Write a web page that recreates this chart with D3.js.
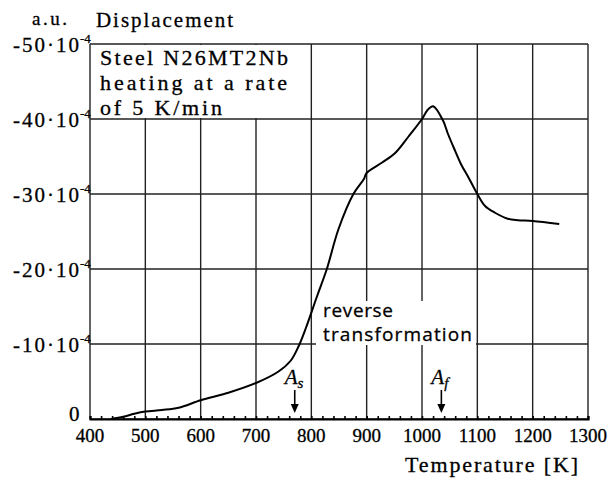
<!DOCTYPE html>
<html><head><meta charset="utf-8">
<script src="https://cdn.jsdelivr.net/npm/d3@7"></script>
<style>body{margin:0;background:#fff}svg{display:block}</style>
</head><body>
<svg id="c" width="612" height="480"></svg>
<script>
// Data (displacement in units of 1e-4, a.u.)
const temperature = [438,460,480,500,530,560,600,650,700,740,763,777,790,810,828,849,876,895,900,928,952,975,1000,1010,1020,1038,1047,1059,1071,1084,1100,1114,1132,1155,1173,1200,1248];
const displacement = [0,-0.3,-0.7,-1.0,-1.2,-1.5,-2.5,-3.5,-4.8,-6.3,-7.8,-9.7,-12.1,-16.3,-20,-25.3,-30,-32,-32.8,-34.2,-35.5,-37.6,-40,-41.2,-41.7,-39.8,-38.0,-35.9,-33.9,-32.2,-30,-28.4,-27.5,-26.7,-26.5,-26.4,-26.0];
const xTicks = [400,500,600,700,800,900,1000,1100,1200,1300];
const yTicks = [0,-10,-20,-30,-40,-50];
const yTickLabels = ["0","-10·10","-20·10","-30·10","-40·10","-50·10"];
const markers = [{name:"A",sub:"s",t:770},{name:"A",sub:"f",t:1035}];
const legendLines = ["Steel N26MT2Nb","heating at a rate","of 5 K/min"];

const svg = d3.select("#c");
const x = d3.scaleLinear().domain([400,1300]).range([90,588]);
const y = d3.scaleLinear().domain([0,-50]).range([419,44]);
const serif = "'Liberation Serif'";
const gridColor = "#222";
const ink = sel => sel.attr("fill","#000").attr("stroke","#000").attr("stroke-width",0.3);

// grid
const g = svg.append("g");
g.selectAll("line.v").data(xTicks).join("line")
  .attr("x1",d=>x(d)).attr("x2",d=>x(d)).attr("y1",y(0)).attr("y2",y(-50))
  .attr("stroke",gridColor).attr("stroke-width",1.4);
g.selectAll("line.h").data(yTicks).join("line")
  .attr("x1",x(400)).attr("x2",x(1300)).attr("y1",d=>y(d)).attr("y2",d=>y(d))
  .attr("stroke",gridColor).attr("stroke-width",1.4);

// bottom axis with minor ticks
const xAxis = d3.axisBottom(x).tickValues(d3.range(400,1301,20)).tickSize(-3).tickFormat("");
const ax = svg.append("g").attr("transform",`translate(0,${y(0)})`).call(xAxis);
ax.select(".domain").attr("stroke","#000").attr("stroke-width",2.2);
ax.selectAll(".tick line").attr("stroke","#000").attr("stroke-width",1.6);

// tick labels
svg.append("g").selectAll("text").data(xTicks).join("text")
  .attr("x",d=>x(d)).attr("y",442).attr("text-anchor","middle")
  .attr("font-family",serif).attr("font-size",19).call(ink).text(d=>d);

svg.append("g").selectAll("text").data(yTicks).join("text")
  .attr("x",d=>d===0?69:13).attr("y",d=>y(d)+(d===0?2:8))
  .attr("font-family",serif).attr("font-size",21).call(ink)
  .attr("textLength",d=>d===0?null:66).attr("lengthAdjust","spacing")
  .text((d,i)=>yTickLabels[i]);
svg.append("g").selectAll("text").data(yTicks.filter(d=>d!==0)).join("text")
  .attr("x",80).attr("y",d=>y(d)-1)
  .attr("font-family",serif).attr("font-size",13).call(ink).text("-4");

// legend box
svg.append("rect").attr("x",x(400)+1).attr("y",y(-50)+1).attr("width",215).attr("height",y(-40)-y(-50)-2).attr("fill","#fff");
const legW = [188,187,122];
svg.append("g").selectAll("text").data(legendLines).join("text")
  .attr("x",100).attr("y",(d,i)=>64.5+i*25)
  .attr("font-family",serif).attr("font-size",22).call(ink)
  .attr("textLength",(d,i)=>legW[i]).attr("lengthAdjust","spacing").text(d=>d);

// text box behind "reverse transformation"
svg.append("rect").attr("x",316).attr("y",301).attr("width",160).attr("height",44).attr("fill","#fff");

// curve
const pts = temperature.map((t,i)=>[t,displacement[i]]);
svg.append("path").datum(pts)
  .attr("d",d3.line().x(d=>x(d[0])).y(d=>y(d[1])).curve(d3.curveCatmullRom.alpha(0.5)))
  .attr("fill","none").attr("stroke","#000").attr("stroke-width",2);

// annotation text
const sans = "'Open Sans','DejaVu Sans',sans-serif";
svg.append("text").attr("x",323).attr("y",317).attr("font-family",sans).attr("font-size",19).call(ink)
  .attr("textLength",70).attr("lengthAdjust","spacing").text("reverse");
svg.append("text").attr("x",323).attr("y",341).attr("font-family",sans).attr("font-size",19).call(ink)
  .attr("textLength",149).attr("lengthAdjust","spacing").text("transformation");

// markers
const mk = svg.append("g").selectAll("g").data(markers).join("g");
mk.append("text").attr("x",d=>x(d.t)-10).attr("y",384)
  .attr("font-family",serif).attr("font-style","italic").attr("font-size",21).call(ink).text(d=>d.name)
  .append("tspan").attr("font-size",15).attr("dy",4).text(d=>d.sub);
mk.append("line").attr("x1",d=>x(d.t)).attr("x2",d=>x(d.t)).attr("y1",390).attr("y2",406)
  .attr("stroke","#000").attr("stroke-width",1.6);
mk.append("path").attr("d",d=>`M${x(d.t)-4},${404}L${x(d.t)+4},${404}L${x(d.t)},${413}Z`).attr("fill","#000");

// titles
svg.append("text").attr("x",32).attr("y",25).attr("font-family",serif).attr("font-size",19).call(ink)
  .attr("textLength",35).attr("lengthAdjust","spacing").text("a.u.");
svg.append("text").attr("x",96).attr("y",27).attr("font-family",serif).attr("font-size",21).call(ink)
  .attr("textLength",137).attr("lengthAdjust","spacing").text("Displacement");
svg.append("text").attr("x",405).attr("y",472).attr("font-family",serif).attr("font-size",22).call(ink)
  .attr("textLength",173).attr("lengthAdjust","spacing").text("Temperature [K]");
</script>
</body></html>
